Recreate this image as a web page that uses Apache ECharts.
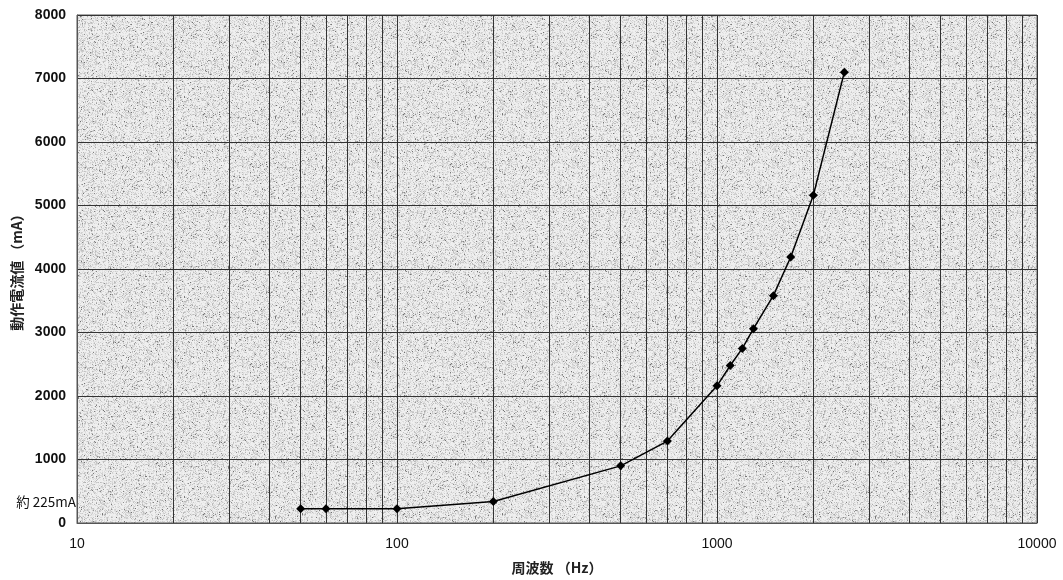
<!DOCTYPE html>
<html><head><meta charset="utf-8">
<script src="https://cdn.jsdelivr.net/npm/echarts@6/dist/echarts.min.js"></script>
<style>html,body{margin:0;padding:0;background:#fff}#c{width:1063px;height:580px}</style>
</head><body><div id="c"></div>
<script>
const frequencies = [50, 60, 100, 200, 500, 700, 1000, 1100, 1200, 1300, 1500, 1700, 2000, 2500];
const currents = [225, 225, 225, 340, 900, 1290, 2160, 2480, 2750, 3060, 3580, 4190, 5160, 7100];
const minorGridFreqs = [20,30,40,50,60,70,80,90,200,300,400,500,600,700,800,900,2000,3000,4000,5000,6000,7000,8000,9000];
const xTitle = '周波数 （Hz）';
const yTitle = '動作電流値 （mA）';
const noteValue = 225;
const noteLabel = '約 225mA';

// paper-like texture (deterministic hash)
const tex = document.createElement('canvas');
tex.width = 200; tex.height = 200;
const tctx = tex.getContext('2d');
const img = tctx.createImageData(200, 200);
let s = 12345;
function h(){ s = (s * 1103515245 + 12345) & 0x7fffffff; return s / 0x7fffffff; }
for (let i = 0; i < 200*200; i++) {
  const r = h();
  let v = 240 - Math.floor(r * r * r * 65);
  if (r > 0.96) v = 110 + Math.floor(h()*80);
  img.data[i*4] = v; img.data[i*4+1] = v; img.data[i*4+2] = v; img.data[i*4+3] = 255;
}
tctx.putImageData(img, 0, 0);

const chart = echarts.init(document.getElementById('c'));
const font = 'Liberation Sans, Arial, sans-serif';
chart.setOption({
  animation: false,
  grid: { left: 77, right: 26, top: 15, bottom: 52, show: true,
    backgroundColor: { image: tex, repeat: 'repeat' }, borderColor: '#555', borderWidth: 1 },
  xAxis: {
    type: 'log', logBase: 10, min: 10, max: 10000,
    name: xTitle, nameLocation: 'middle', nameGap: 38,
    nameTextStyle: { fontFamily: 'Noto Sans CJK JP', fontSize: 14, fontWeight: 'bold', color: '#222' },
    axisLine: { show: true, lineStyle: { color: '#555' } },
    axisTick: { show: false },
    axisLabel: { fontFamily: font, fontSize: 14, color: '#111', margin: 14, formatter: v => String(v) },
    splitLine: { show: true, lineStyle: { color: '#333', width: 1 } },
    minorSplitLine: { show: false }
  },
  yAxis: [{
    type: 'value', min: 0, max: 8000, interval: 1000,
    name: yTitle, nameLocation: 'middle', nameGap: 52,
    nameTextStyle: { fontFamily: 'Noto Sans CJK JP', fontSize: 14, fontWeight: 'bold', color: '#222' },
    axisLine: { show: true, lineStyle: { color: '#555' } },
    axisTick: { show: false },
    axisLabel: { fontFamily: font, fontSize: 14, fontWeight: 'bold', color: '#111', margin: 11, formatter: v => String(v) },
    splitLine: { show: true, lineStyle: { color: '#333', width: 1 } }
  }, {
    type: 'value', min: 0, max: 8000, position: 'left',
    axisLine: { show: false }, axisTick: { show: false }, splitLine: { show: false },
    axisLabel: { customValues: [noteValue], formatter: () => noteLabel, margin: 1,
      fontFamily: 'Noto Sans CJK JP', fontSize: 13.5, color: '#111', verticalAlign: 'bottom' }
  }],
  series: [{
    type: 'line',
    data: frequencies.map((f, i) => [f, currents[i]]),
    symbol: 'diamond', symbolSize: 9,
    itemStyle: { color: '#000' },
    lineStyle: { color: '#000', width: 1.5 },
    smooth: false,
    markLine: {
      silent: true, symbol: ['none', 'none'], label: { show: false },
      lineStyle: { color: '#333', width: 1, type: 'solid' },
      data: minorGridFreqs.map(f => ({ xAxis: f }))
    },
    z: 5
  }]
});
</script></body></html>
